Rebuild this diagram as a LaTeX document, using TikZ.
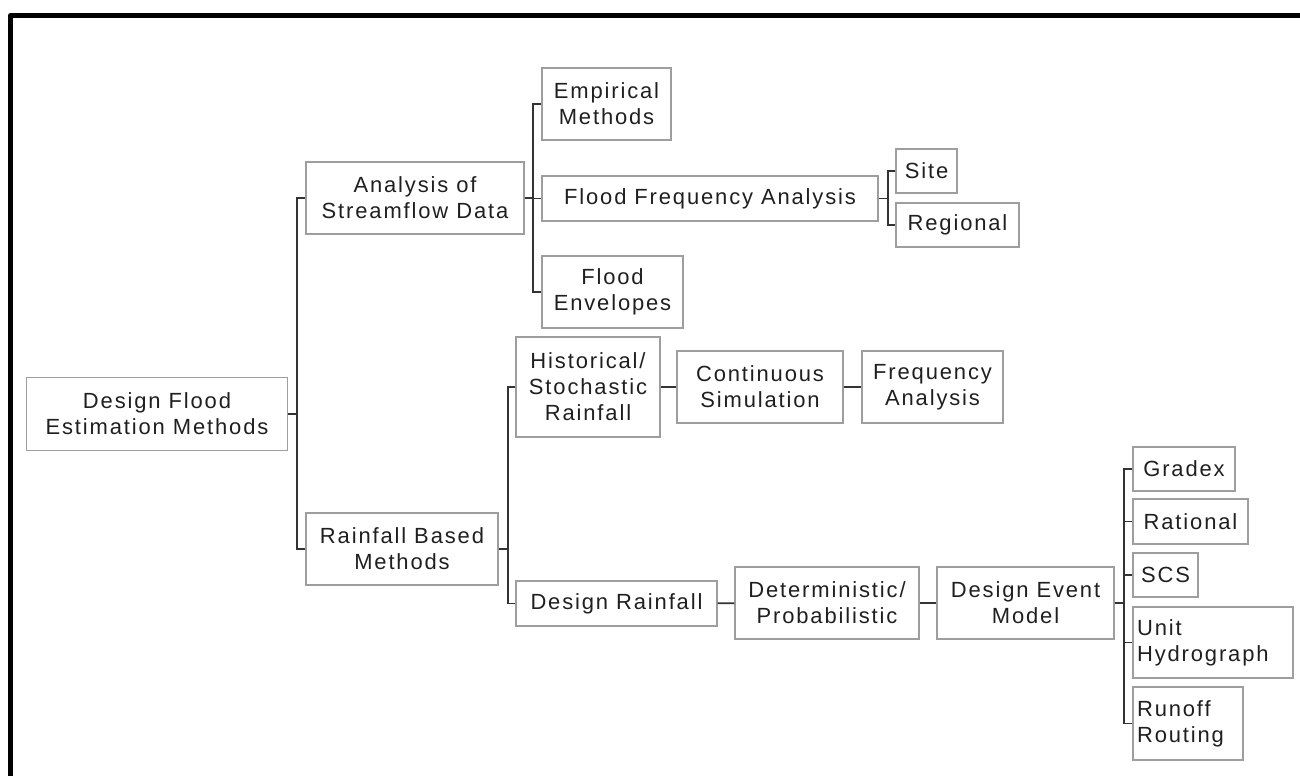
\documentclass[tikz,border=0pt]{standalone}
\usepackage{fontspec}
\setmainfont{Liberation Sans}[LetterSpace=8.5]
\begin{document}
\begin{tikzpicture}[x=0.02cm,y=-0.02cm,
   box/.style={draw=black!38,line width=0.03cm,inner sep=0.08cm,align=center,
      text=black!88,font=\fontsize{12.5pt}{14.8pt}\selectfont},
   lbox/.style={box,align=left},
   link/.style={draw=black!80,line width=0.035cm}]
\useasboundingbox (0,0) rectangle (1300,776);
\draw[line width=0.1cm,line join=round] (1300,15.5) -- (10.5,15.5) -- (10.5,776);
\node[box,minimum width=5.22cm,minimum height=1.46cm] (root) at (157,414) {Design Flood\\Estimation Methods};
\node[box,minimum width=4.36cm,minimum height=1.44cm] (ana) at (415,198) {Analysis of\\Streamflow Data};
\node[box,minimum width=3.84cm,minimum height=1.44cm] (rain) at (402,549) {Rainfall Based\\Methods};
\node[box,minimum width=2.58cm,minimum height=1.44cm] (emp) at (606.5,104) {Empirical\\Methods};
\node[box,minimum width=6.72cm,minimum height=0.90cm] (ffa) at (710,198.5) {Flood Frequency Analysis};
\node[box,minimum width=2.82cm,minimum height=1.44cm] (env) at (612.5,292) {Flood\\Envelopes};
\node[box,minimum width=1.22cm,minimum height=0.88cm] (site) at (926.5,171) {Site};
\node[box,minimum width=2.46cm,minimum height=0.88cm] (reg) at (957.5,225) {Regional};
\node[box,minimum width=2.88cm,minimum height=2.00cm] (hist) at (588,387) {Historical/\\Stochastic\\Rainfall};
\node[box,minimum width=3.32cm,minimum height=1.44cm] (cont) at (760,387) {Continuous\\Simulation};
\node[box,minimum width=2.82cm,minimum height=1.44cm] (freq) at (932.5,387) {Frequency\\Analysis};
\node[box,minimum width=4.02cm,minimum height=0.90cm] (drain) at (616.5,603.5) {Design Rainfall};
\node[box,minimum width=3.68cm,minimum height=1.44cm] (det) at (827,603) {Deterministic/\\Probabilistic};
\node[box,minimum width=3.54cm,minimum height=1.44cm] (dem) at (1025.5,603) {Design Event\\Model};
\node[box,minimum width=2.04cm,minimum height=0.88cm] (grad) at (1184,469) {Gradex};
\node[box,minimum width=2.30cm,minimum height=0.90cm] (rat) at (1190.5,521.5) {Rational};
\node[box,minimum width=1.30cm,minimum height=0.88cm] (scs) at (1165.5,575) {SCS};
\node[lbox,text width=3.04cm,minimum height=1.42cm] (unit) at (1213,642.5) {Unit\\Hydrograph};
\node[lbox,text width=2.04cm,minimum height=1.46cm] (run) at (1188,723.5) {Runoff\\Routing};
\foreach \c in {ana,rain}
   \draw[link] (root.east) -- ++(9,0) |- (\c.west);
\foreach \c in {emp,ffa,env}
   \draw[link] (ana.east) -- ++(8,0) |- (\c.west);
\foreach \c in {site,reg}
   \draw[link] (ffa.east) -- ++(9,0) |- (\c.west);
\foreach \c in {hist,drain}
   \draw[link] (rain.east) -- ++(9,0) |- (\c.west);
\draw[link] (hist) -- (cont);
\draw[link] (cont) -- (freq);
\draw[link] (drain) -- (det);
\draw[link] (det) -- (dem);
\foreach \c in {grad,rat,scs,unit,run}
   \draw[link] (dem.east) -- ++(9,0) |- (\c.west);
\end{tikzpicture}
\end{document}
